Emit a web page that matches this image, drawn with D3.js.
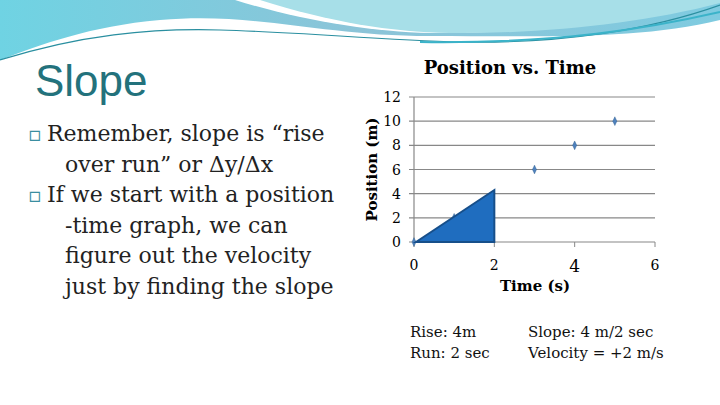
<!DOCTYPE html>
<html><head><meta charset="utf-8">
<script src="https://cdn.jsdelivr.net/npm/d3@7"></script>
<style>body{margin:0;background:#fff}svg{display:block}</style>
</head><body><svg id="c" width="720" height="405"></svg>
<script>
const times=[0,1,3,4,5];
const positions=[0,2,6,8,10];
const yTicks=[0,2,4,6,8,10,12];
const xTicks=[0,2,4,6];
const bullets=["Remember, slope is \u201crise","over run\u201d or \u0394y/\u0394x","If we start with a position","-time graph, we can","figure out the velocity","just by finding the slope"];
const svg=d3.select("#c");
const defs=svg.append("defs");
const g1=defs.append("linearGradient").attr("id","g1").attr("x1",0).attr("x2",1).attr("y1",0).attr("y2",0);
g1.append("stop").attr("offset",0).attr("stop-color","#6fd3e3");
g1.append("stop").attr("offset",0.5).attr("stop-color","#8cc4d8");
g1.append("stop").attr("offset",1).attr("stop-color","#7fcbe0");
svg.append("path").attr("d","M0,0H720V20C640,40 540,36 430,36C320,36 260,12 160,20C90,26 40,45 0,60Z").attr("fill","url(#g1)");
svg.append("path").attr("d","M235,0C300,20 370,32 430,33C520,34 620,22 720,0Z").attr("fill","#fff");
svg.append("path").attr("d","M260,0C330,22 390,32 450,33C540,34 640,24 720,3V0Z").attr("fill","#a7dfe8");
svg.append("path").attr("d","M0,60C80,35 150,28 220,30C300,32 380,40 460,42C560,44 650,30 720,5").attr("fill","none").attr("stroke","#2a8fa0").attr("stroke-width",1.2);
svg.append("path").attr("d","M420,42C560,44 650,28 720,12").attr("fill","none").attr("stroke","#3bb3c9").attr("stroke-width",2);
svg.append("text").attr("x",35).attr("y",96).attr("font-family","Liberation Sans, Arial, sans-serif").attr("font-size",44).attr("fill","#23727c").text("Slope");
const bt=svg.append("g").attr("font-family","DejaVu Serif, serif").attr("font-size",22).attr("fill","#222").attr("textLength",0);
bullets.forEach((b,i)=>{
  const y=141+i*30.5;
  const bullet=(i===0||i===2);
  if(bullet) bt.append("text").attr("x",28).attr("y",y).attr("font-size",20).attr("fill","#3a8ea0").text("\u25AB");
  bt.append("text").attr("x",bullet?47:65).attr("y",y).text(b);
});
const x=d3.scaleLinear().domain([0,6]).range([414,655]);
const y=d3.scaleLinear().domain([0,12]).range([242,97]);
const ch=svg.append("g").attr("font-family","DejaVu Serif, serif");
ch.append("text").attr("x",510).attr("y",74).attr("text-anchor","middle").attr("font-weight","bold").attr("font-size",18).text("Position vs. Time");
ch.selectAll(".gl").data(yTicks).join("line").attr("x1",x(0)-5).attr("x2",x(6)).attr("y1",d=>y(d)).attr("y2",d=>y(d)).attr("stroke","#888").attr("stroke-width",1.2);
ch.append("line").attr("x1",x(0)).attr("x2",x(0)).attr("y1",y(12)).attr("y2",y(0)).attr("stroke","#888").attr("stroke-width",1.2);
ch.selectAll(".xt").data(xTicks).join("line").attr("x1",d=>x(d)).attr("x2",d=>x(d)).attr("y1",y(0)).attr("y2",y(0)+5).attr("stroke","#888");
ch.selectAll(".yl").data(yTicks).join("text").attr("x",x(0)-13).attr("y",d=>y(d)+5).attr("text-anchor","end").attr("font-size",14).text(d=>d);
ch.selectAll(".xl").data(xTicks).join("text").attr("x",d=>x(d)).attr("y",d=>d===4?272:270).attr("text-anchor","middle").attr("font-size",d=>d===4?17:14).text(d=>d);
ch.append("text").attr("x",535).attr("y",291).attr("text-anchor","middle").attr("font-weight","bold").attr("font-size",15).text("Time (s)");
ch.append("text").attr("transform",`translate(377,${y(6)}) rotate(-90)`).attr("text-anchor","middle").attr("font-weight","bold").attr("font-size",15).text("Position (m)");
ch.selectAll(".pt").data(times).join("path").attr("d",d3.symbol(d3.symbolDiamond,22)).attr("transform",(d,i)=>`translate(${x(d)},${y(positions[i])}) scale(0.8,1)`).attr("fill","#4f81bd").attr("stroke","#2c5d8f").attr("stroke-width",0.5);
ch.append("path").attr("d",`M${x(0.05)},${y(0)}L${x(2)},${y(4.3)}L${x(2)},${y(0)}Z`).attr("fill","#1f6dbf").attr("stroke","#174f8a").attr("stroke-width",2);
const nt=svg.append("g").attr("font-family","DejaVu Serif, serif").attr("font-size",15).attr("fill","#111");
nt.append("text").attr("x",410).attr("y",337).text("Rise: 4m");
nt.append("text").attr("x",410).attr("y",358).text("Run: 2 sec");
nt.append("text").attr("x",528).attr("y",337).text("Slope: 4 m/2 sec");
nt.append("text").attr("x",528).attr("y",358).text("Velocity = +2 m/s");
</script></body></html>
